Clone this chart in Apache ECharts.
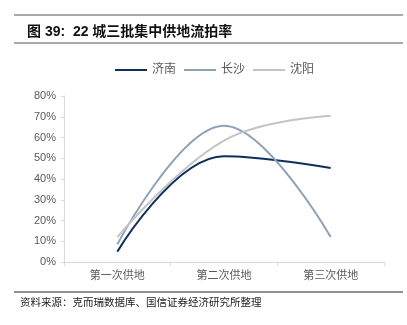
<!DOCTYPE html>
<html>
<head>
<meta charset="utf-8">
<script src="https://cdn.jsdelivr.net/npm/echarts@6/dist/echarts.min.js"></script>
<style>
  html, body { margin: 0; padding: 0; background: #fff; }
  #chart { width: 407px; height: 325px; }
</style>
</head>
<body>
<div id="chart"></div>
<script>
// 流拍率（%）
const categories = ['第一次供地', '第二次供地', '第三次供地'];
const jinan = [5, 51, 45.3];
const changsha = [8.5, 65.7, 12];
const shenyang = [12, 58.5, 70.5];
const yTicks = [0, 10, 20, 30, 40, 50, 60, 70, 80];

const chart = echarts.init(document.getElementById('chart'));
const cjk = '"Liberation Sans", "Noto Sans CJK SC", sans-serif';

function line(name, data, color) {
  return {
    name: name, type: 'line', data: data, smooth: 0.4,
    symbol: 'none', lineStyle: { color: color, width: 2 }, itemStyle: { color: color }
  };
}

chart.setOption({
  animation: false,
  title: {
    text: '图 39:  22 城三批集中供地流拍率',
    left: 22, top: 20,
    textStyle: { fontFamily: cjk, fontSize: 14, fontWeight: 'bold', color: '#111' }
  },
  graphic: [
    { type: 'line', shape: { x1: 14, y1: 15, x2: 403, y2: 15 }, style: { stroke: '#8c8c8c', lineWidth: 1.5 } },
    { type: 'line', shape: { x1: 14, y1: 43, x2: 403, y2: 43 }, style: { stroke: '#8c8c8c', lineWidth: 1.5 } },
    { type: 'line', shape: { x1: 14, y1: 292, x2: 403, y2: 292 }, style: { stroke: '#222', lineWidth: 1 } },
    { type: 'text', left: 20, top: 297,
      style: { text: '资料来源：克而瑞数据库、国信证券经济研究所整理', font: '10.5px "Noto Sans CJK SC", sans-serif', fill: '#222' } }
  ],
  legend: {
    top: 59, left: 110, itemGap: 8, itemWidth: 32, itemHeight: 2,
    icon: 'rect',
    textStyle: { fontFamily: cjk, fontSize: 12, color: '#595959' },
    data: ['济南', '长沙', '沈阳']
  },
  grid: { left: 64, right: 23, top: 96, bottom: 63 },
  xAxis: {
    type: 'category', data: categories, boundaryGap: true,
    axisLine: { lineStyle: { color: '#d9d9d9' } },
    axisTick: { show: true, length: 4, lineStyle: { color: '#d9d9d9' } },
    axisLabel: { fontFamily: cjk, fontSize: 11, color: '#595959', margin: 8 }
  },
  yAxis: {
    type: 'value', min: yTicks[0], max: yTicks[yTicks.length - 1], interval: 10,
    axisLine: { show: true, lineStyle: { color: '#d9d9d9' } },
    axisTick: { show: true, length: 3, lineStyle: { color: '#d9d9d9' } },
    splitLine: { show: false },
    axisLabel: { fontFamily: cjk, fontSize: 11, color: '#595959', margin: 8, formatter: v => v + '%' }
  },
  series: [
    line('济南', jinan, '#0f2f5e'),
    line('长沙', changsha, '#8ea3b7'),
    line('沈阳', shenyang, '#c4c4c4')
  ]
});
</script>
</body>
</html>
